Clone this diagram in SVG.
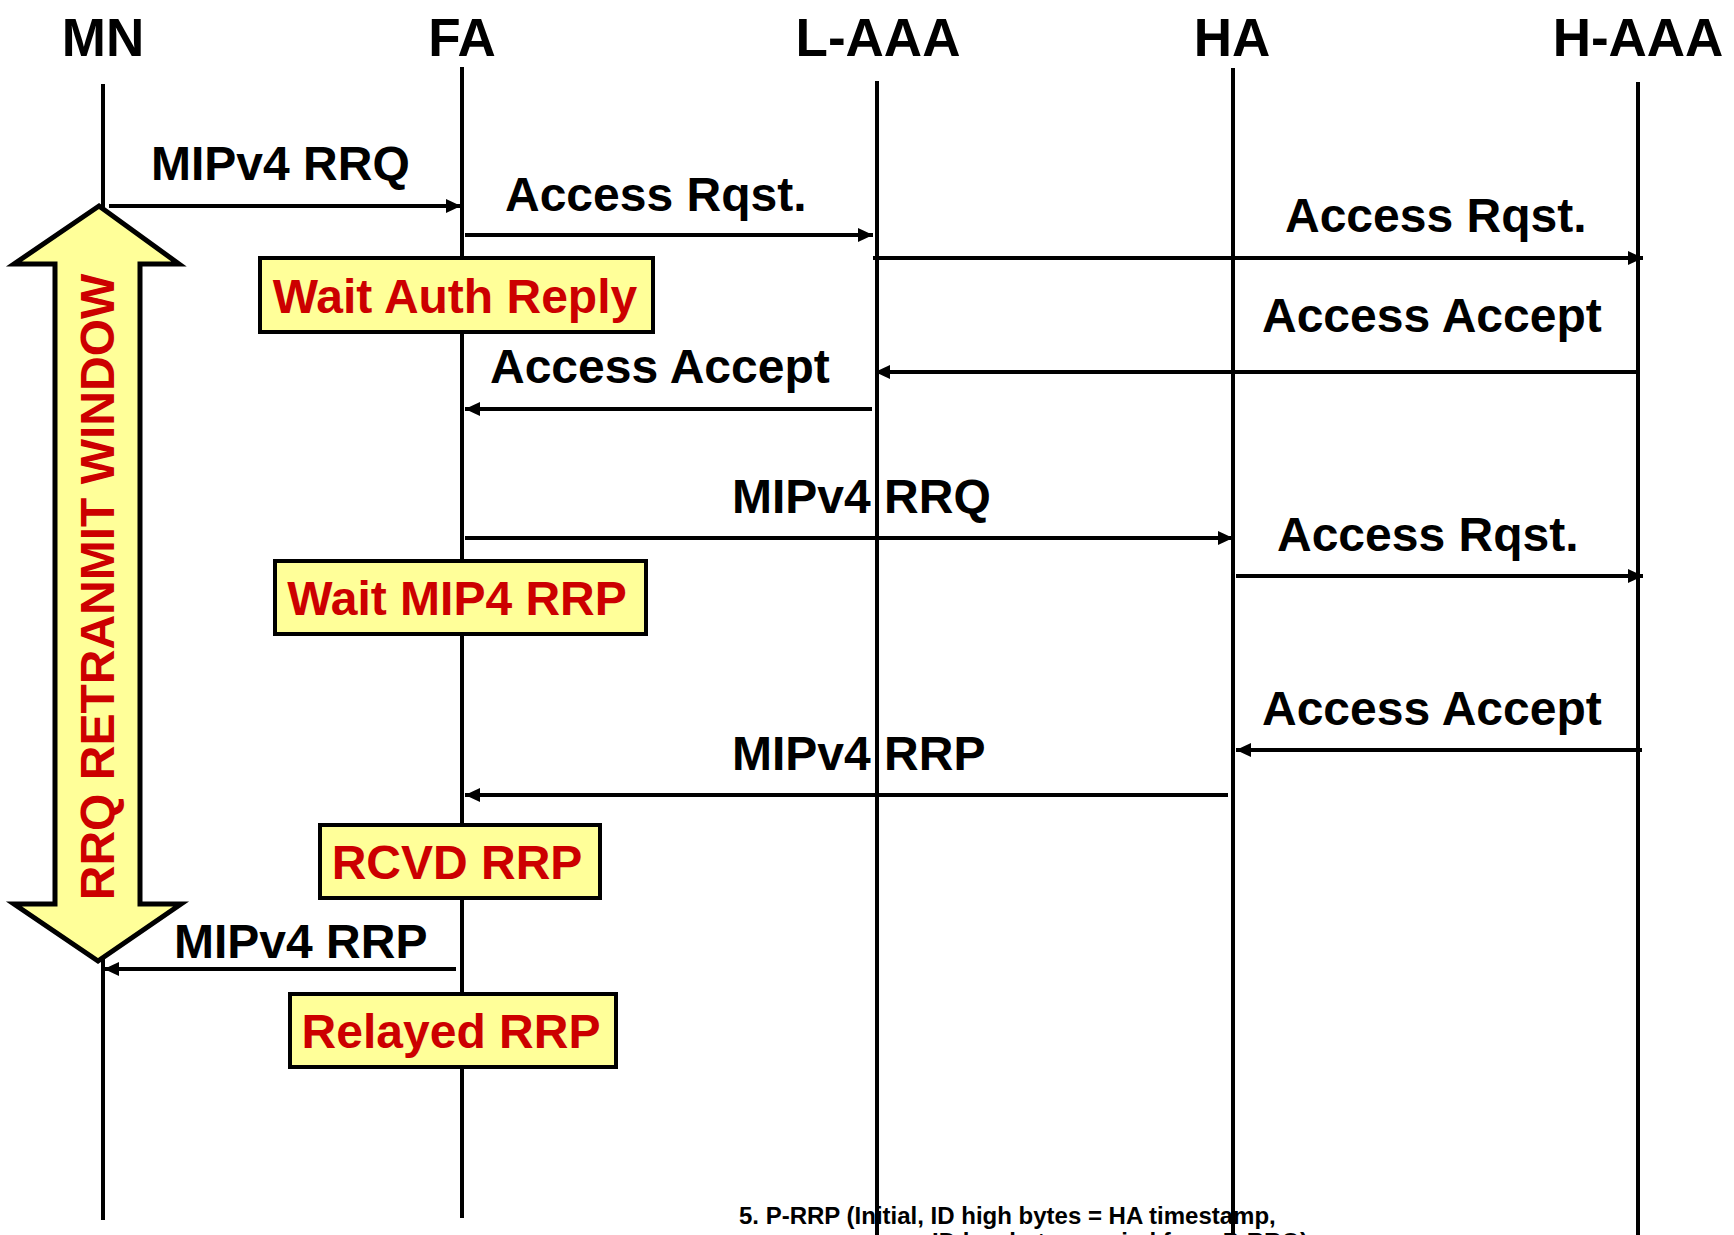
<svg xmlns="http://www.w3.org/2000/svg" width="1734" height="1235" viewBox="0 0 1734 1235">
<defs>
<style>
text{font-family:"Liberation Sans",Arial,Helvetica,sans-serif;font-weight:bold;}
.title{font-size:53px;fill:#000;text-anchor:middle;}
.life{stroke:#000;stroke-width:4;fill:none;}
.msg{stroke:#000;stroke-width:4;fill:none;marker-end:url(#ah);}
.lbl{font-size:48px;fill:#000;}
.box{fill:#FFFF99;stroke:#000;stroke-width:4;}
.state{font-size:48px;fill:#CC0000;text-anchor:middle;}
.note{font-size:24px;fill:#000;}
</style>
<marker id="ah" viewBox="0 0 15 14" markerWidth="15" markerHeight="14" markerUnits="userSpaceOnUse" refX="15" refY="7" orient="auto">
<path d="M0,0 L15,7 L0,14 z" fill="#000"/>
</marker>
</defs>
<rect width="1734" height="1235" fill="#fff"/>

<g id="node-MN">
<text class="title" x="103" y="56">MN</text>
<line class="life" x1="103" y1="84" x2="103" y2="1220"/>
</g>
<g id="node-FA">
<text class="title" x="462" y="56">FA</text>
<line class="life" x1="462" y1="67" x2="462" y2="1218"/>
</g>
<g id="node-LAAA">
<text class="title" x="878" y="56">L-AAA</text>
<line class="life" x1="877" y1="81" x2="877" y2="1235"/>
</g>
<g id="node-HA">
<text class="title" x="1232" y="56">HA</text>
<line class="life" x1="1233" y1="68" x2="1233" y2="1235"/>
</g>
<g id="node-HAAA">
<text class="title" x="1638" y="56">H-AAA</text>
<line class="life" x1="1638" y1="82" x2="1638" y2="1235"/>
</g>

<g id="retransmit-window">
<polygon points="99,206 179,264 140,264 140,904 181,904 98,961 14,904 55,904 55,264 14,264" fill="#FFFF99" stroke="#000" stroke-width="5" stroke-linejoin="miter"/>
<text class="state" transform="translate(114,587) rotate(-90)" x="0" y="0">RRQ RETRANMIT WINDOW</text>
</g>

<g id="connectors">
<line class="msg" x1="109" y1="206" x2="461" y2="206"/>
<text class="lbl" x="151" y="180">MIPv4 RRQ</text>
<line class="msg" x1="465" y1="235" x2="873" y2="235"/>
<text class="lbl" x="505" y="211">Access Rqst.</text>
<line class="msg" x1="873" y1="258" x2="1643" y2="258"/>
<text class="lbl" x="1285" y="232">Access Rqst.</text>
<line class="msg" x1="1638" y1="372" x2="875" y2="372"/>
<text class="lbl" x="1262" y="332">Access Accept</text>
<line class="msg" x1="872" y1="409" x2="465" y2="409"/>
<text class="lbl" x="490" y="383">Access Accept</text>
<line class="msg" x1="465" y1="538" x2="1233" y2="538"/>
<text class="lbl" x="732" y="513">MIPv4 RRQ</text>
<line class="msg" x1="1236" y1="576" x2="1643" y2="576"/>
<text class="lbl" x="1277" y="551">Access Rqst.</text>
<line class="msg" x1="1642" y1="750" x2="1236" y2="750"/>
<text class="lbl" x="1262" y="725">Access Accept</text>
<line class="msg" x1="1228" y1="795" x2="465" y2="795"/>
<text class="lbl" x="732" y="770">MIPv4 RRP</text>
<line class="msg" x1="456" y1="969" x2="104" y2="969"/>
<text class="lbl" x="174" y="958">MIPv4 RRP</text>
</g>

<g id="state-wait-auth">
<rect class="box" x="260" y="258" width="393" height="74"/>
<text class="state" x="455" y="313">Wait Auth Reply</text>
</g>
<g id="state-wait-rrp">
<rect class="box" x="275" y="561" width="371" height="73"/>
<text class="state" x="457" y="615">Wait MIP4 RRP</text>
</g>
<g id="state-rcvd">
<rect class="box" x="320" y="825" width="280" height="73"/>
<text class="state" x="457" y="879">RCVD RRP</text>
</g>
<g id="state-relayed">
<rect class="box" x="290" y="994" width="326" height="73"/>
<text class="state" x="451" y="1048">Relayed RRP</text>
</g>

<g id="note">
<text class="note" x="739" y="1224">5. P-RRP (Initial, ID high bytes = HA timestamp,</text>
<text class="note" x="932" y="1250">ID low bytes copied from P-RRQ)</text>
</g>
</svg>
